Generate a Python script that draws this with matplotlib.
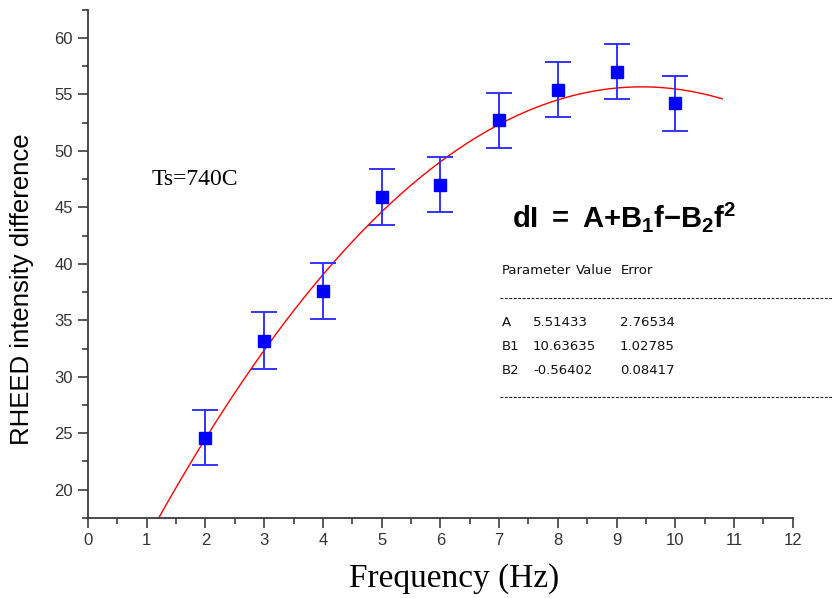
import numpy as np
import matplotlib.pyplot as plt
from matplotlib.ticker import MultipleLocator

plt.rcParams['mathtext.fontset'] = 'custom'
plt.rcParams['mathtext.rm'] = 'Liberation Sans'
plt.rcParams['mathtext.bf'] = 'Liberation Sans:bold'

# measured RHEED intensity difference vs modulation frequency
freq = [2, 3, 4, 5, 6, 7, 8, 9, 10]
d_int = [24.6, 33.2, 37.6, 45.9, 47.0, 52.7, 55.4, 57.0, 54.2]
d_err = [2.45, 2.5, 2.45, 2.45, 2.45, 2.45, 2.45, 2.45, 2.45]

# quadratic fit parameters
param_names = ['A', 'B1', 'B2']
param_values = [5.51433, 10.63635, -0.56402]
param_errors = [2.76534, 1.02785, 0.08417]
fit_range = (1.0, 10.8)

axis_col = '#3c3c3c'

fig = plt.figure(figsize=(8.32, 5.98), dpi=100)
ax = fig.add_axes([0.1058, 0.1338, 0.847, 0.8502])

A, B1, B2 = param_values
f = np.linspace(fit_range[0], fit_range[1], 300)
ax.plot(f, A + B1 * f + B2 * f ** 2, color='red', lw=1.0, zorder=2)

ax.errorbar(freq, d_int, yerr=d_err, fmt='none', ecolor='#3333ff',
            elinewidth=1.4, capsize=9.5, capthick=1.4, zorder=3)
ax.plot(freq, d_int, 's', color='#0000ff', markersize=8.5, zorder=4)

ax.set_xlim(0, 12)
ax.set_ylim(17.5, 62.5)
ax.xaxis.set_major_locator(MultipleLocator(1))
ax.xaxis.set_minor_locator(MultipleLocator(0.5))
ax.yaxis.set_major_locator(MultipleLocator(5))
ax.yaxis.set_minor_locator(MultipleLocator(2.5))

for s in ['top', 'right']:
    ax.spines[s].set_visible(False)
for s in ['left', 'bottom']:
    ax.spines[s].set_color(axis_col)
    ax.spines[s].set_linewidth(1.3)
ax.tick_params(which='major', direction='out', length=7.5, width=1.2,
               color=axis_col, labelcolor='#333333', labelsize=12)
ax.tick_params(which='minor', direction='out', length=4, width=1.2,
               color=axis_col)
for lbl in ax.get_xticklabels() + ax.get_yticklabels():
    lbl.set_fontfamily('Liberation Sans')

ax.set_xlabel('Frequency (Hz)', fontsize=24, family='Liberation Serif')
ax.xaxis.set_label_coords(0.52, -0.088)
ax.set_ylabel('RHEED intensity difference', fontsize=18.5,
              family='Liberation Sans')
ax.yaxis.set_label_coords(-0.076, 0.45)

ax.text(1.09, 46.98, 'Ts=740C', fontsize=17, family='Liberation Serif',
        va='baseline', ha='left')

ax.text(7.22, 43.26, r'$\mathbf{dI\;=\;A{+}B_1f{-}B_2f^2}$', fontsize=21,
        va='baseline', ha='left')

# parameter table
tx = 502 / 832
def fy(py):
    return 1 - py / 598

tkw = dict(fontsize=9.5, family='DejaVu Sans', color='#111111',
           va='center', transform=fig.transFigure)
fig.text(tx, fy(271), 'Parameter', **tkw)
fig.text(613 / 832, fy(271), 'Value', ha='right', **tkw)
fig.text(621 / 832, fy(271), 'Error', **tkw)
for i, name in enumerate(param_names):
    y = fy(322 + 24 * i)
    fig.text(tx, y, name, **tkw)
    fig.text(533 / 832, y, f'{param_values[i]:.5f}', **tkw)
    fig.text(620 / 832, y, f'{param_errors[i]:.5f}', **tkw)
for py in (298, 397):
    fig.add_artist(plt.Line2D([500 / 832, 1.0], [fy(py), fy(py)],
                              transform=fig.transFigure, color='#222222',
                              lw=0.8, ls=(0, (2.5, 1.5))))

fig.savefig('out.png', dpi=100)
